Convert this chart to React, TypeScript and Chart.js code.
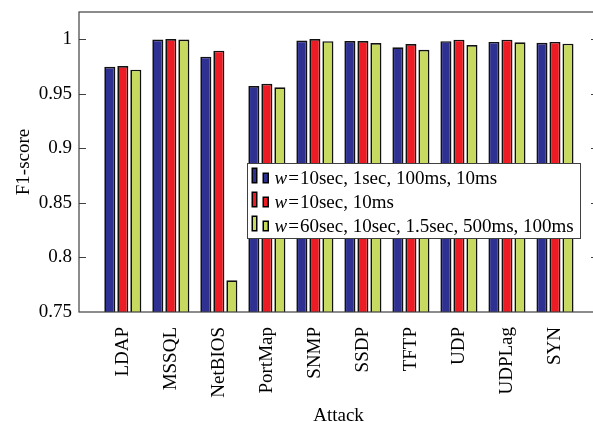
import React, { useEffect, useRef } from 'react';
import { Chart, registerables } from 'chart.js';

Chart.register(...registerables);

const categories = ['LDAP', 'MSSQL', 'NetBIOS', 'PortMap', 'SNMP', 'SSDP', 'TFTP', 'UDP', 'UDPLag', 'SYN'];
const seriesLabels = [
  'w=10sec, 1sec, 100ms, 10ms',
  'w=10sec, 10ms',
  'w=60sec, 10sec, 1.5sec, 500ms, 100ms',
];
const seriesColors = ['#2e3192', '#ed1c24', '#c8d960'];
const blueValues = [0.9746, 0.9995, 0.9838, 0.957, 0.9985, 0.9982, 0.9924, 0.998, 0.9973, 0.9966];
const redValues = [0.9753, 1.0, 0.9893, 0.959, 1.0, 0.9982, 0.9954, 0.9994, 0.9994, 0.9973];
const greenValues = [0.9719, 0.9995, 0.779, 0.9558, 0.998, 0.9963, 0.9902, 0.9945, 0.997, 0.9957];
const yTicks = [0.75, 0.8, 0.85, 0.9, 0.95, 1];
const yTickLabels = ['0.75', '0.8', '0.85', '0.9', '0.95', '1'];
const yTitle = 'F1-score';
const xTitle = 'Attack';

const FONT = "'Liberation Serif', 'Times New Roman', serif";

const framePlugin = {
  id: 'frame',
  afterDatasetsDraw(chart: any) {
    const { ctx, chartArea, scales } = chart;
    const { left, right, top, bottom } = chartArea;
    const y = scales.y;
    ctx.save();
    ctx.strokeStyle = '#404040';
    ctx.lineWidth = 1.2;
    ctx.strokeRect(left, top, right - left, bottom - top);
    y.ticks.forEach((t: any) => {
      const py = Math.round(y.getPixelForValue(t.value)) + 0.5;
      if (py <= top + 1 || py >= bottom - 1) return;
      ctx.beginPath();
      ctx.moveTo(left, py);
      ctx.lineTo(left + 7, py);
      ctx.moveTo(right - 7, py);
      ctx.lineTo(right, py);
      ctx.stroke();
    });
    ctx.restore();
  },
};

const legendPlugin = {
  id: 'insideLegend',
  afterDraw(chart: any) {
    const { ctx } = chart;
    const box = { x: 247.5, y: 163.5, w: 333, h: 75 };
    ctx.save();
    ctx.fillStyle = '#ffffff';
    ctx.fillRect(box.x, box.y, box.w, box.h);
    ctx.strokeStyle = '#404040';
    ctx.lineWidth = 1;
    ctx.strokeRect(box.x, box.y, box.w, box.h);
    chart.data.datasets.forEach((ds: any, i: number) => {
      const base = box.y + 20 + i * 24;
      ctx.fillStyle = '#000';
      ctx.fillRect(251.5, base - 16, 6, 16);
      ctx.fillRect(262.5, base - 11, 6.5, 11);
      ctx.fillStyle = ds.backgroundColor;
      ctx.fillRect(253, base - 14.5, 3, 13);
      ctx.fillRect(264, base - 9.5, 3.5, 8);
      const label: string = ds.label;
      let x = 274.5;
      ctx.fillStyle = '#000';
      ctx.textBaseline = 'alphabetic';
      ctx.textAlign = 'left';
      ctx.font = `italic 19px ${FONT}`;
      const first = label.charAt(0);
      ctx.fillText(first, x, base);
      x += ctx.measureText(first).width + 1;
      ctx.font = `19px ${FONT}`;
      const eq = label.charAt(1);
      ctx.fillText(eq, x, base);
      x += ctx.measureText(eq).width + 1;
      ctx.fillText(label.slice(2), x, base);
    });
    ctx.restore();
  },
};

export default function App() {
  const ref = useRef<HTMLCanvasElement | null>(null);
  useEffect(() => {
    const canvas = ref.current;
    if (!canvas) return;
    const toPoints = (vals: number[]) => vals.map((v, i) => ({ x: i, y: v }));
    const valueSets = [blueValues, redValues, greenValues];
    const chart = new Chart(canvas, {
      type: 'bar',
      data: {
        datasets: valueSets.map((vals, i) => ({
          label: seriesLabels[i],
          data: toPoints(vals),
          backgroundColor: seriesColors[i],
          borderColor: '#111111',
          borderWidth: 1.7,
          categoryPercentage: 0.8125,
          barPercentage: 0.85,
        })),
      },
      options: {
        animation: false,
        responsive: false,
        devicePixelRatio: 1,
        layout: { padding: { left: 0, top: 12, right: 2, bottom: 0 } },
        plugins: {
          legend: { display: false },
          tooltip: { enabled: false },
        },
        scales: {
          x: {
            type: 'linear',
            offset: false,
            min: -0.9125,
            max: 9.896,
            grid: { display: false, drawTicks: false, offset: false },
            border: { display: false },
            afterBuildTicks: (s: any) => {
              s.ticks = categories.map((_, i) => ({ value: i }));
            },
            afterFit: (s: any) => {
              s.height = 430 - 312;
              s.paddingLeft = 0;
              s.paddingRight = 0;
            },
            ticks: {
              autoSkip: false,
              maxRotation: 90,
              minRotation: 90,
              padding: 15,
              color: '#000',
              font: { family: FONT, size: 19 },
              callback: (_v: any, i: number) => categories[i],
            },
            title: {
              display: true,
              text: xTitle,
              color: '#000',
              font: { family: FONT, size: 19 },
              padding: { top: 0, bottom: 3 },
            },
          },
          y: {
            type: 'linear',
            min: 0.75,
            max: 1.0247,
            grid: { display: false, drawTicks: false },
            border: { display: false },
            afterBuildTicks: (s: any) => {
              s.ticks = yTicks.map((v) => ({ value: v }));
            },
            afterFit: (s: any) => {
              s.width = 79;
              s.paddingTop = 0;
              s.paddingBottom = 0;
            },
            ticks: {
              padding: 7,
              color: '#000',
              font: { family: FONT, size: 19 },
              callback: (_v: any, i: number) => yTickLabels[i],
            },
            title: {
              display: true,
              text: yTitle,
              color: '#000',
              font: { family: FONT, size: 19 },
              padding: { top: 13, bottom: 0 },
            },
          },
        },
      } as any,
      plugins: [framePlugin, legendPlugin],
    });
    return () => chart.destroy();
  }, []);
  return (
    <div
      style={{
        position: 'fixed',
        left: 0,
        top: 0,
        width: 593,
        height: 422,
        overflow: 'hidden',
        background: '#fff',
      }}
    >
      <canvas ref={ref} width={600} height={430} style={{ display: 'block', width: 600, height: 430 }} />
    </div>
  );
}
